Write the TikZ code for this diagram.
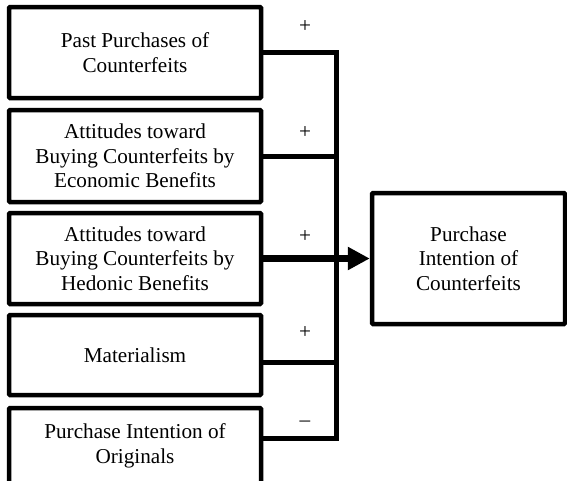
\documentclass[tikz,border=0pt]{standalone}
\usepackage{fontspec}
\setmainfont{Liberation Serif}
\usetikzlibrary{arrows.meta}
\tikzset{
    factor/.style={draw, line width=4.5pt, rounded corners=1pt, align=center, minimum width=252pt, inner sep=0pt},
    link/.style={line width=5pt},
    sign/.style={inner sep=0pt},
}
\begin{document}
\begin{tikzpicture}[x=1pt, y=-1pt, font=\fontsize{21.2}{24.5}\selectfont]
\useasboundingbox (0,0) rectangle (567,480);
% antecedents
\node[factor, minimum height=91pt] (past) at (135,52.5) {Past Purchases of\\Counterfeits};
\node[factor, minimum height=92pt] (econ) at (135,156) {Attitudes toward\\Buying Counterfeits by\\Economic Benefits};
\node[factor, minimum height=91pt] (hedo) at (135,258.5) {Attitudes toward\\Buying Counterfeits by\\Hedonic Benefits};
\node[factor, minimum height=80pt] (mat) at (135,355) {Materialism};
\node[factor, minimum height=76pt] (orig) at (135,446) {Purchase Intention of\\Originals};
% outcome
\node[factor, minimum width=193pt, minimum height=131pt] (intent) at (468.5,258.5) {Purchase\\Intention of\\Counterfeits};
% connectors
\coordinate (bus) at (336,0);
\draw[link, line join=miter] (past.east) -- (past.east -| bus) -- ([yshift=8pt]orig.east -| bus) -- ([yshift=8pt]orig.east);
\draw[link] (econ.east) -- (econ.east -| bus);
\draw[link] ([yshift=-7pt]mat.east) -- ([yshift=-7pt]mat.east -| bus);
\draw[line width=7.5pt, -{Triangle[length=22pt,width=22pt]}] (hedo.east) -- (intent.west);
% signs
\node[sign] (s1) at (305,27) {+};
\node[sign] (s2) at (305,133) {+};
\node[sign] (s3) at (305,237) {+};
\node[sign] (s4) at (305,333) {+};
\node[sign] (s5) at (305,424) {–};
\end{tikzpicture}
\end{document}
